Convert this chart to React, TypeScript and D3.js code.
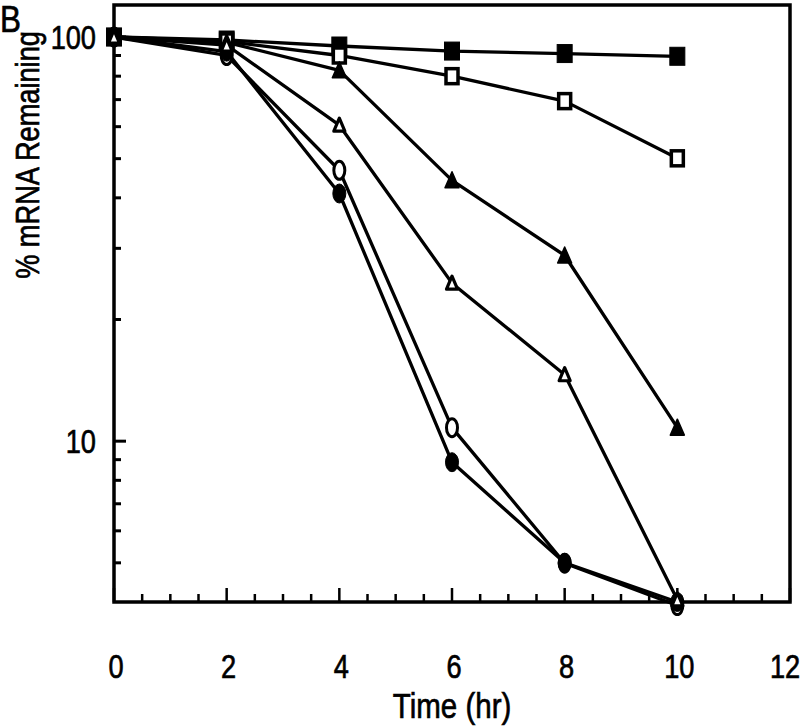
import React from "react";
import * as d3 from "d3";

const times = [0, 2, 4, 6, 8, 10];
const filledSquare = [100, 98.3, 95, 92.3, 91, 89.6];
const openSquare = [100, 97.5, 90, 80, 69.4, 50.1];
const filledTriangle = [100, 97, 82.7, 44.2, 28.8, 10.8];
const openTriangle = [100, 95.5, 60.5, 24.6, 14.6, 4.05];
const openCircle = [100, 90, 46.8, 10.8, 4.99, 3.92];
const filledCircle = [100, 92, 41, 8.87, 5.0, 4.0];

const xTicks = [0, 2, 4, 6, 8, 10, 12];
const xMinor = d3.range(0, 12.01, 0.5);
const yTicks = [10, 100];
const yMinor = [5, 6, 7, 8, 9, 20, 30, 40, 50, 60, 70, 80, 90];

type Shape = "square" | "triangle" | "circle";
const series: { values: number[]; shape: Shape; filled: boolean }[] = [
  { values: filledSquare, shape: "square", filled: true },
  { values: openSquare, shape: "square", filled: false },
  { values: filledTriangle, shape: "triangle", filled: true },
  { values: openCircle, shape: "circle", filled: false },
  { values: filledCircle, shape: "circle", filled: true },
  { values: openTriangle, shape: "triangle", filled: false },
];

const W = 800;
const H = 727;
const left = 114;
const right = 790;
const top = 5;
const bottom = 602;

export default function App() {
  const x = d3.scaleLinear().domain([0, 12]).range([left, right]);
  const y = d3.scaleLog().domain([4, 120]).range([bottom, top]);
  const line = d3
    .line<number>()
    .x((_, i) => x(times[i]))
    .y((d) => y(d));

  const font = "'Liberation Sans', Arial, Helvetica, sans-serif";
  const textStyle = { stroke: "#000", strokeWidth: 0.7 };

  const marker = (shape: Shape, filled: boolean, cx: number, cy: number, key: string) => {
    const fill = filled ? "#000" : "#fff";
    if (shape === "square") {
      const w = filled ? 15 : 12;
      const h = filled ? 18 : 15;
      return (
        <rect key={key} x={cx - w / 2} y={cy - h / 2} width={w} height={h}
          fill={fill} stroke="#000" strokeWidth={filled ? 1 : 3.5} />
      );
    }
    if (shape === "triangle") {
      const w = filled ? 14 : 11;
      const h = filled ? 15 : 12;
      const p = `${cx},${cy - h / 2 - 1} ${cx + w / 2},${cy + h / 2} ${cx - w / 2},${cy + h / 2}`;
      return <polygon key={key} points={p} fill={fill} stroke="#000"
        strokeWidth={filled ? 1.5 : 3.2} strokeLinejoin="round" />;
    }
    return (
      <ellipse key={key} cx={cx} cy={cy} rx={filled ? 6.5 : 5.5} ry={filled ? 9.5 : 9}
        fill={fill} stroke="#000" strokeWidth={filled ? 1 : 3} />
    );
  };

  return (
    <svg width={W} height={H} style={{ position: "absolute", left: 0, top: 0, background: "#fff" }}>
      <rect x={0} y={0} width={W} height={H} fill="#fff" />
      {/* frame */}
      <rect x={left} y={top} width={right - left} height={bottom - top} fill="none" stroke="#000" strokeWidth={3.5} />
      {/* x ticks */}
      {xMinor.map((t) => {
        const major = Math.abs(t - Math.round(t / 2) * 2) < 1e-6;
        return (
          <line key={`xm${t}`} x1={x(t)} x2={x(t)} y1={bottom} y2={bottom - (major ? 14 : 8)}
            stroke="#000" strokeWidth={2.5} />
        );
      })}
      {/* y ticks */}
      {yTicks.map((t) => (
        <line key={`yt${t}`} x1={left} x2={left + 12} y1={y(t)} y2={y(t)} stroke="#000" strokeWidth={3} />
      ))}
      {yMinor.map((t) => (
        <line key={`ym${t}`} x1={left} x2={left + 7} y1={y(t)} y2={y(t)} stroke="#000" strokeWidth={3} />
      ))}
      {/* x tick labels */}
      {xTicks.map((t) => (
        <text key={`xl${t}`} transform={`translate(${t === 12 ? x(t) - 5 : x(t) + 2},678) scale(0.8,1)`} textAnchor="middle"
          fontFamily={font} fontSize={34} fill="#000" style={textStyle}>{t}</text>
      ))}
      {/* y tick labels */}
      {yTicks.map((t) => (
        <text key={`yl${t}`} transform={`translate(96,${y(t) + 12}) scale(0.8,1)`} textAnchor="end"
          fontFamily={font} fontSize={34} fill="#000" style={textStyle}>{t}</text>
      ))}
      {/* axis titles */}
      <text transform="translate(452,718) scale(0.82,1)" textAnchor="middle" fontFamily={font} fontSize={36} fill="#000" style={textStyle}>
        Time (hr)
      </text>
      <text transform="translate(39,155) rotate(-90) scale(0.8,1)" textAnchor="middle" fontFamily={font} fontSize={34} fill="#000" style={textStyle}>
        % mRNA Remaining
      </text>
      <text transform="translate(0,32) scale(0.85,1)" fontFamily={font} fontSize={37} fill="#000" style={textStyle}>B</text>
      {/* lines */}
      {series.map((s, i) => (
        <path key={`l${i}`} d={line(s.values) || ""} fill="none" stroke="#000" strokeWidth={3.3} strokeLinejoin="round" />
      ))}
      {/* markers */}
      {series.map((s, i) =>
        s.values.map((v, j) => marker(s.shape, s.filled, x(times[j]), y(v), `m${i}-${j}`))
      )}
    </svg>
  );
}
